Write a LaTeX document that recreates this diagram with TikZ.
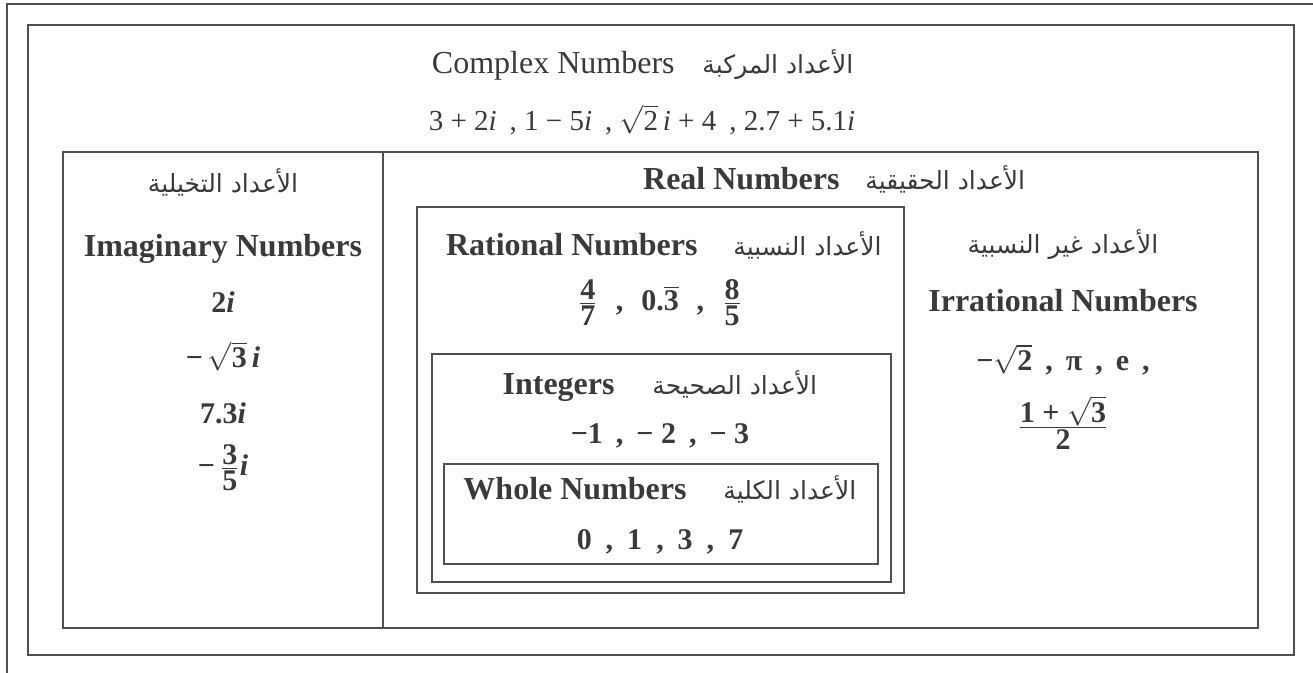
\documentclass[tikz,border=0pt]{standalone}
\usepackage{amsmath}
\usepackage{fontspec}
\setmainfont{Liberation Serif}
\newfontfamily\arabicfont[Script=Arabic]{DejaVu Sans}
\TeXXeTstate=1
\definecolor{ink}{HTML}{3A3A3A}
\definecolor{rulegray}{HTML}{505050}
\newcommand{\numfrac}[2]{\ensuremath{\frac{\hbox{#1}}{\hbox{#2}}}}
\newcommand{\cgap}{\hspace{6.5pt}}
\tikzset{
  frame/.style={draw=rulegray,line width=0.8pt},
  edge/.style={draw=rulegray,line width=1pt},
  en/.style={text=ink,inner sep=0pt,font=\fontsize{16}{19}\selectfont\bfseries},
  num/.style={text=ink,inner sep=0pt,font=\fontsize{15}{18}\selectfont\bfseries},
  plain/.style={text=ink,inner sep=0pt,font=\fontsize{16}{19}\selectfont},
  ar/.style={text=ink,inner sep=0pt,font=\arabicfont\fontsize{12.5}{15}\selectfont}
}

\begin{document}
\begin{tikzpicture}[x=0.5pt,y=-0.5pt]
\useasboundingbox (0,0) rectangle (1313,673);
\draw[edge](1313,4)--(7,4)--(7,673);
\draw[frame](28,25)rectangle(1294,655);
\draw[frame](63,152)rectangle(1258,628);
\draw[frame](383,152)--(383,628);
\draw[frame](417,207)rectangle(904,593);
\draw[frame](432,354)rectangle(891,582);
\draw[frame](444,464)rectangle(878,564);

\node[plain,anchor=base east](cplxEn)at(675,74){Complex Numbers};
\node[ar,anchor=base west](cplxAr)at(702,74){\beginR الأعداد المركبة\endR};
\node[plain,anchor=base,font=\fontsize{14.5}{17}\selectfont](cplxNum)at(642,131){3 + 2\textit{i}\cgap, 1 − 5\textit{i}\cgap, $\sqrt{\text{2}}$\,\textit{i} + 4\cgap, 2.7 + 5.1\textit{i}};

\node[ar,anchor=base](imagAr)at(223,193){\beginR الأعداد التخيلية\endR};
\node[en,anchor=base](imagEn)at(223,257){Imaginary Numbers};
\node[num,anchor=base](imagA)at(223,313){2\textit{i}};
\node[num,anchor=base](imagB)at(223,368){−\,$\sqrt{\text{3}}$\,\textit{i}};
\node[num,anchor=base](imagC)at(223,424){7.3\textit{i}};
\node[num,anchor=base](imagD)at(223,476){−\,\numfrac{3}{5}\textit{i}};

\node[en,anchor=base east](realEn)at(840,190){Real Numbers};
\node[ar,anchor=base west](realAr)at(865,190){\beginR الأعداد الحقيقية\endR};

\node[en,anchor=base east](ratEn)at(698,256){Rational Numbers};
\node[ar,anchor=base west](ratAr)at(733,256){\beginR الأعداد النسبية\endR};
\node[num,anchor=base](ratNum)at(660,311){\numfrac{4}{7}\hspace{9pt},\hspace{9pt}0.$\overline{\text{3}}$\hspace{9pt},\hspace{9pt}\numfrac{8}{5}};

\node[en,anchor=base east](intEn)at(615,395){Integers};
\node[ar,anchor=base west](intAr)at(652,395){\beginR الأعداد الصحيحة\endR};
\node[num,anchor=base](intNum)at(660,444){−1\cgap,\cgap− 2\cgap,\cgap− 3};

\node[en,anchor=base east](wholeEn)at(687,500){Whole Numbers};
\node[ar,anchor=base west](wholeAr)at(723,500){\beginR الأعداد الكلية\endR};
\node[num,anchor=base](wholeNum)at(660,550){0\hspace{7pt},\hspace{7pt}1\hspace{7pt},\hspace{7pt}3\hspace{7pt},\hspace{7pt}7};

\node[ar,anchor=base](irrAr)at(1063,254){\beginR الأعداد غير النسبية\endR};
\node[en,anchor=base](irrEn)at(1063,312){Irrational Numbers};
\node[num,anchor=base](irrNum)at(1063,371){−$\sqrt{\text{2}}$\cgap,\cgap π\cgap,\cgap e\cgap,};
\node[num,anchor=base](irrFrac)at(1063,435){\numfrac{1 + $\sqrt{\text{3}}$}{2}};
\end{tikzpicture}
\end{document}
